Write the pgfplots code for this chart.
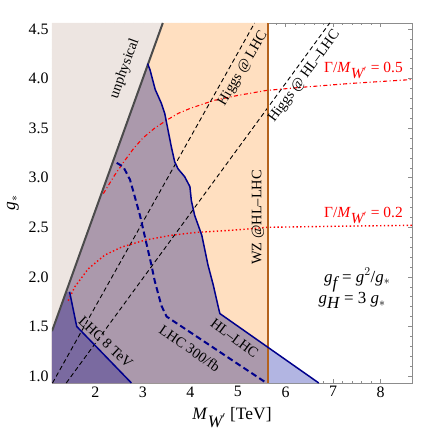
\documentclass[border=0pt]{standalone}
\usepackage{fontspec}
\setmainfont{Liberation Serif}
\usepackage{pgfplots}
\pgfplotsset{compat=1.18}
\definecolor{beige}{RGB}{237,229,225}
\definecolor{peach}{RGB}{255,223,192}
\definecolor{purp}{RGB}{171,153,172}
\definecolor{lav}{RGB}{178,181,226}
\definecolor{darkp}{RGB}{122,106,160}
\definecolor{navy}{RGB}{0,0,140}
\definecolor{brownl}{RGB}{180,98,28}
\definecolor{grayl}{RGB}{75,75,75}
\begin{document}
\begin{tikzpicture}
\begin{axis}[
  scale only axis, width=360bp, height=360bp,
  xmin=1.09, xmax=8.66, ymin=0.93, ymax=4.56,
  axis line style={black!45, line width=0.6bp},
  tick style={black!45, line width=0.5bp},
  major tick length=4.5bp, minor tick length=2.5bp,
  tick align=inside,
  xtick={2,3,4,5,6,7,8}, ytick={1,1.5,2,2.5,3,3.5,4,4.5},
  minor x tick num=4, minor y tick num=4,
  /pgf/number format/assume math mode=true,
  ticklabel style={font=\fontsize{16}{18}\selectfont},
  yticklabel style={/pgf/number format/.cd, fixed, fixed zerofill, precision=1},
  xlabel={\textit{M}$_{\textit{W}'}$ [TeV]},
  ylabel={\textit{g}$_{*}$},
  label style={font=\fontsize{17.5}{19}\selectfont},
  xlabel style={yshift=-6bp, inner ysep=1bp},
  ylabel style={yshift=3bp},
]
% regions
\addplot[draw=none, fill=beige] coordinates {(1.09,0.93) (1.09,4.56) (3.42,4.56) (1.09,1.453)} -- cycle;
\addplot[draw=none, fill=peach] coordinates {(1.09,0.93) (1.09,1.453) (3.42,4.56) (5.63,4.56) (5.63,0.93)} -- cycle;
\addplot[draw=none, fill=purp] coordinates {(1.09,0.93) (1.09,1.453) (3.10,4.15) (3.15,4.09) (3.26,3.89) (3.39,3.75) (3.46,3.65) (3.53,3.48) (3.60,3.31) (3.67,3.16) (3.74,3.09) (3.88,3.01) (3.99,2.91) (4.02,2.77) (4.09,2.62) (4.24,2.42) (4.37,2.12) (4.48,1.92) (4.58,1.71) (4.62,1.63) (5.63,1.29) (5.63,0.93)} -- cycle;
\addplot[draw=none, fill=lav] coordinates {(5.63,0.93) (5.63,1.29) (6.70,0.93)} -- cycle;
\addplot[draw=none, fill=darkp] coordinates {(1.09,0.93) (1.09,1.453) (1.386,1.85) (1.46,1.85) (1.61,1.50) (2.76,0.93)} -- cycle;
% black dashed Higgs lines
\addplot[black, line width=0.9bp, dash pattern=on 4.5bp off 3bp] coordinates {(1.10,0.93) (5.35,4.56)};
\addplot[black, line width=0.9bp, dash pattern=on 4.5bp off 3bp] coordinates {(1.39,0.93) (6.93,4.56)};
% red width curves
\addplot[red, line width=1.1bp, dash pattern=on 4bp off 2.5bp on 1bp off 2.5bp] coordinates {(2.17,2.84) (2.40,3.02) (2.60,3.16) (2.80,3.29) (3.00,3.40) (3.25,3.50) (3.50,3.58) (3.75,3.65) (4.00,3.70) (4.50,3.78) (5.00,3.83) (5.60,3.88) (6.30,3.91) (7.35,3.95) (8.66,3.99)};
\addplot[red, line width=1.4bp, dash pattern=on 1.4bp off 2.4bp] coordinates {(1.43,1.76) (1.57,1.90) (1.85,2.08) (2.20,2.22) (2.55,2.30) (3.04,2.37) (3.60,2.42) (4.16,2.45) (4.87,2.47) (5.63,2.50) (7.00,2.51) (8.66,2.52)};
% unphysical boundary
\addplot[grayl, line width=2bp] coordinates {(1.09,1.453) (3.42,4.56)};
% WZ vertical line
\addplot[brownl, line width=1.6bp] coordinates {(5.63,0.93) (5.63,4.56)};
% HL-LHC
\addplot[navy, line width=1.5bp] coordinates {(3.10,4.15) (3.15,4.09) (3.26,3.89) (3.39,3.75) (3.46,3.65) (3.53,3.48) (3.60,3.31) (3.67,3.16) (3.74,3.09) (3.88,3.01) (3.99,2.91) (4.02,2.77) (4.09,2.62) (4.24,2.42) (4.37,2.12) (4.48,1.92) (4.58,1.71) (4.62,1.63) (5.63,1.29) (6.70,0.93)};
% LHC 300/fb
\addplot[navy, line width=2bp, dash pattern=on 6bp off 3.5bp] coordinates {(2.45,3.15) (2.59,3.11) (2.73,2.98) (2.83,2.81) (2.94,2.62) (3.18,2.12) (3.25,1.96) (3.39,1.71) (3.50,1.60) (5.60,0.93)};
% LHC 8 TeV
\addplot[navy, line width=1.5bp] coordinates {(1.46,1.85) (1.61,1.50) (2.76,0.93)};
% labels
\node[rotate=70, font=\fontsize{14.5}{16}\selectfont] at (axis cs:2.62,4.10) {unphysical};
\node[rotate=59.5, font=\fontsize{14.5}{16}\selectfont] at (axis cs:5.11,4.10) {Higgs @ LHC};
\node[rotate=53.6, font=\fontsize{14.5}{16}\selectfont] at (axis cs:6.40,4.02) {Higgs @ HL--LHC};
\node[rotate=90, font=\fontsize{14.5}{16}\selectfont] at (axis cs:5.42,2.60) {WZ @HL--LHC};
\node[rotate=-43, font=\fontsize{14.5}{16}\selectfont] at (axis cs:2.22,1.34) {LHC 8 TeV};
\node[rotate=-34.7, font=\fontsize{14.5}{16}\selectfont] at (axis cs:3.99,1.28) {LHC 300/fb};
\node[rotate=-37, font=\fontsize{14.5}{16}\selectfont] at (axis cs:4.93,1.38) {HL--LHC};
\node[red, anchor=east, font=\fontsize{15.5}{17}\selectfont] at (axis cs:8.54,4.08) {Γ/\textit{M}$_{\textit{W}'}$ = 0.5};
\node[red, anchor=east, font=\fontsize{15.5}{17}\selectfont] at (axis cs:8.54,2.62) {Γ/\textit{M}$_{\textit{W}'}$ = 0.2};
\node[font=\fontsize{17}{19}\selectfont] at (axis cs:7.51,1.97) {\textit{g}$_{\textit{f}}$ = \textit{g}$^{2}$/\textit{g}$_{*}$};
\node[font=\fontsize{17}{19}\selectfont] at (axis cs:7.40,1.76) {\textit{g}$_{\textit{H}}$ = 3 \textit{g}$_{*}$};
\end{axis}
\path ([shift={(-52bp,-49bp)}]current axis.south west) rectangle ([shift={(25bp,23bp)}]current axis.north east);
\end{tikzpicture}
\end{document}
